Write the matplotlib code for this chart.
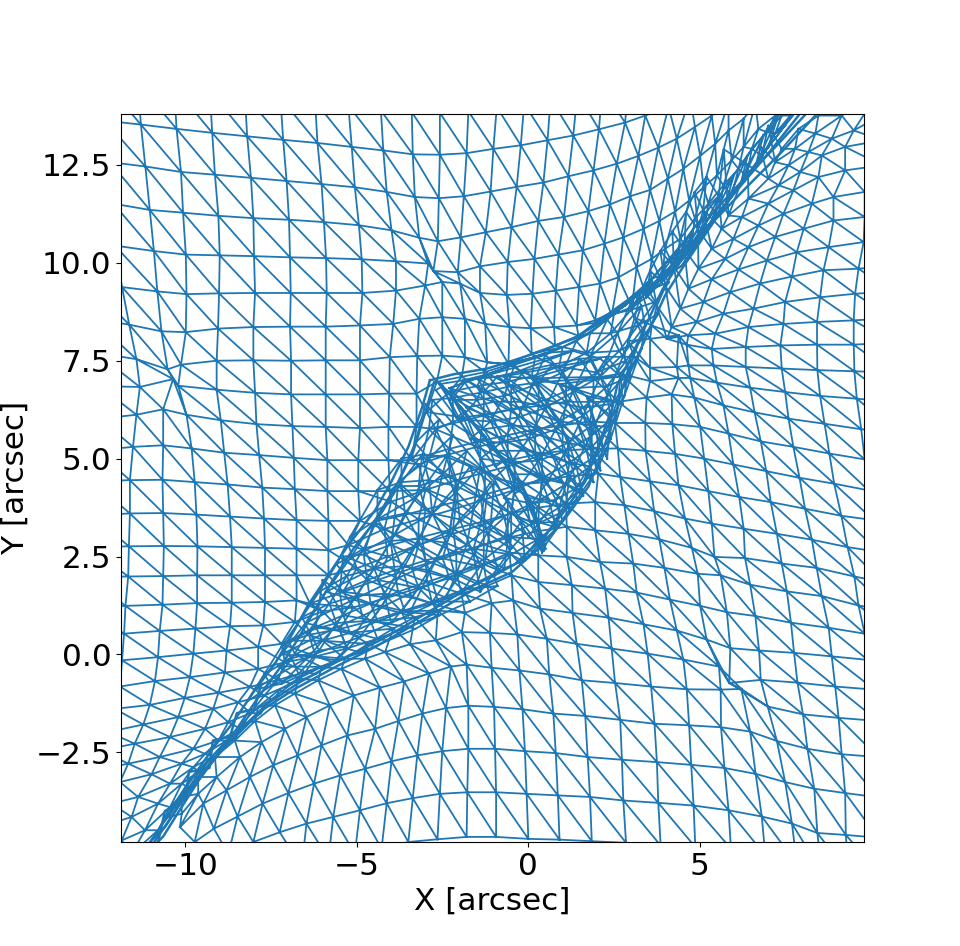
import numpy as np
import matplotlib
matplotlib.use("Agg")
import matplotlib.pyplot as plt
import matplotlib.tri as mtri

# parte de arriba e izquierda de la malla: (columna inicial, x, y)
arriba = [
 (0, [-12.45,-11.38,-10.33,-9.29,-8.27,-7.23,-6.22,-5.25,-4.30,-3.40,-2.58,-1.75,-0.92,-0.12,0.65,1.43,2.16,2.95],
     [14.7,14.59,14.49,14.39,14.29,14.21,14.12,14.02,13.89,13.85,13.83,13.87,13.98,14.06,14.19,14.32,14.49,14.66]),
 (0, [-12.35,-11.30,-10.26,-9.22,-8.20,-7.15,-6.15,-5.15,-4.23,-3.37,-2.58,-1.80,-1.02,-0.22,0.56,1.31,2.06,2.82,3.41,4.09,4.72],
     [13.63,13.53,13.42,13.32,13.23,13.14,13.06,12.96,12.87,12.77,12.76,12.80,12.91,13.0,13.13,13.25,13.41,13.58,13.76,13.98,14.23]),
 (0, [-12.2,-11.17,-10.13,-9.14,-8.09,-7.05,-6.03,-5.06,-4.13,-3.31,-2.61,-1.88,-1.10,-0.34,0.44,1.17,1.90,2.58,3.21,3.79,4.33,4.86,5.35,5.84],
     [12.57,12.46,12.32,12.25,12.17,12.09,12.01,11.93,11.81,11.68,11.65,11.70,11.82,11.94,12.05,12.21,12.36,12.53,12.73,12.94,13.17,13.47,13.76,14.1]),
 (0, [-12.1,-11.04,-10.07,-9.04,-8.02,-6.98,-5.96,-4.94,-3.99,-3.18,-2.64,-1.97,-1.24,-0.49,0.29,1.04,1.75,2.38,2.97,3.55,4.07,4.52,5.01,5.45,5.84,6.28,6.62],
     [11.51,11.35,11.28,11.20,11.14,11.10,11.04,10.96,10.83,10.64,10.55,10.65,10.78,10.91,11.07,11.17,11.32,11.49,11.70,11.86,12.15,12.40,12.73,13.04,13.38,13.68,14.06]),
 (0, [-12.06,-10.92,-9.99,-9.0,-8.0,-6.95,-5.90,-4.86,-3.86,-2.92,-2.77,-2.06,-1.41,-0.60,0.18,0.88,1.59,2.22,2.77,3.36,3.82,4.28,4.69,5.11,5.50,5.93,6.28,6.71,7.2],
     [10.44,10.30,10.21,10.19,10.17,10.14,10.12,10.09,10.04,9.98,9.79,9.76,9.91,10.02,10.10,10.21,10.32,10.49,10.65,10.87,11.07,11.31,11.59,11.93,12.23,12.62,12.96,13.42,13.76]),
 (-1, [-12.9,-11.85,-10.82,-9.97,-9.02,-7.97,-6.93,-5.88,-4.84,-3.86,-3.01,-2.51,-1.99,-1.41,-0.63,0.12,0.80,1.48,2.09,2.63,3.16,3.60,3.99,4.43,4.86,5.25,5.69,6.13,6.52,6.96,7.39],
     [9.55,9.38,9.27,9.20,9.22,9.23,9.23,9.23,9.23,9.29,9.42,9.51,9.47,9.23,9.18,9.21,9.29,9.38,9.47,9.63,9.89,10.10,10.36,10.61,11.13,11.51,11.98,12.40,12.91,13.34,13.76]),
 (-1, [-12.7,-11.64,-10.70,-9.99,-9.05,-8.02,-6.95,-5.91,-4.91,-3.94,-3.18,-2.51,-1.85,-1.26,-0.55,0.07,0.75,1.41,1.95,2.43,3.02,3.45,3.89,4.28,4.72,5.11,5.55,5.93,6.37,6.81,7.2,7.64],
     [8.57,8.42,8.25,8.23,8.32,8.36,8.37,8.37,8.40,8.44,8.57,8.61,8.57,8.44,8.36,8.33,8.36,8.40,8.53,8.66,8.87,9.12,9.51,9.85,10.32,10.74,11.21,11.72,12.23,12.74,13.30,13.76]),
 (-1, [-12.6,-11.43,-10.52,-10.13,-9.09,-8.02,-6.92,-5.91,-4.91,-4.04,-3.24,-2.51,-1.85,-1.20,-0.58,0.10,0.78,1.46,2.14,2.82,3.31,3.79,4.18,4.57,4.96,5.35,5.74,6.18,6.62,7.0,7.49,7.88],
     [7.7,7.54,7.28,7.40,7.50,7.51,7.50,7.51,7.51,7.59,7.62,7.63,7.59,7.46,7.42,7.68,7.89,8.14,8.49,8.91,9.25,9.59,9.93,10.27,10.66,11.08,11.47,11.98,12.45,12.96,13.51,13.93]),
 (-1, [-12.5,-11.33,-10.36,-10.21,-9.09,-7.97,-6.92,-5.91,-4.91,-4.06,-3.26,-2.67,-1.94,-1.26,-0.58,0.2,1.0,1.8,2.5,3.1,3.6,4.0,4.4,4.8,5.2,5.6,6.0,6.4,6.85,7.3],
     [6.85,6.83,7.03,6.86,6.76,6.68,6.64,6.64,6.64,6.66,6.66,6.96,7.09,7.21,7.40,7.6,7.85,8.2,8.7,9.2,9.6,10.0,10.4,10.85,11.3,11.75,12.25,12.75,13.25,13.8]),
 (-1, [-12.5,-11.43,-10.65,-9.97,-8.97,-7.93,-6.88,-5.91,-4.91,-4.08,-3.26,-2.97,-2.3,-1.5,-0.7,0.1,0.9,1.7,2.4,3.0,3.5,3.95,4.35,4.75],
     [6.02,6.12,6.26,6.12,5.98,5.88,5.83,5.81,5.78,5.81,5.81,6.19,6.7,6.85,6.95,7.1,7.35,7.7,8.2,8.8,9.3,9.7,10.15,10.6]),
 (-1, [-12.6,-11.53,-10.65,-9.82,-8.87,-7.85,-6.84,-5.86,-4.96,-4.08,-3.40,-2.7,-1.9,-1.1,-0.3,0.5,1.3,2.0,2.65,3.2,3.7,4.1],
     [5.21,5.30,5.34,5.26,5.15,5.09,5.02,4.96,4.96,4.96,4.96,5.75,6.05,6.15,6.3,6.5,6.8,7.2,7.75,8.4,9.0,9.5]),
 (-1, [-12.7,-11.62,-10.67,-9.73,-8.77,-7.76,-6.81,-5.86,-4.96,-4.04,-3.2,-2.35,-1.5,-0.7,0.1,0.9,1.6,2.3,2.85,3.35,3.8],
     [4.42,4.45,4.46,4.40,4.34,4.26,4.22,4.17,4.17,4.17,4.85,5.1,5.3,5.45,5.65,5.95,6.3,6.85,7.5,8.1,8.7]),
 (-1, [-12.7,-11.62,-10.65,-9.68,-8.70,-7.71,-6.76,-5.83,-4.91,-4.0,-3.0,-2.1,-1.25,-0.4,0.4,1.15,1.85,2.45,3.0],
     [3.55,3.60,3.61,3.57,3.52,3.47,3.43,3.41,3.41,3.9,4.2,4.45,4.65,4.85,5.1,5.4,5.85,6.4,7.1]),
 (-1, [-12.8,-11.65,-10.63,-9.65,-8.65,-7.68,-6.76,-5.83,-5.25,-4.2,-3.2,-2.2,-1.3,-0.4,0.4,1.2,1.85,2.4],
     [2.74,2.76,2.77,2.76,2.74,2.72,2.70,2.66,2.79,3.2,3.45,3.7,3.95,4.2,4.5,4.9,5.3,5.8]),
 (-1, [-12.8,-11.67,-10.65,-9.66,-8.65,-7.68,-6.76,-5.83,-5.0,-4.1,-3.2,-2.3,-1.4,-0.5,0.35,1.1,1.8,2.3],
     [1.98,1.99,2.0,2.02,2.02,2.02,2.02,2.02,2.2,2.5,2.8,3.05,3.3,3.6,3.95,4.35,4.8,5.2]),
 (-1, [-12.9,-11.75,-10.67,-9.66,-8.65,-7.68,-6.76,-6.37,-5.4,-4.4,-3.4,-2.5,-1.6,-0.7,0.15,0.9,1.5],
     [1.21,1.24,1.27,1.31,1.32,1.34,1.38,1.30,1.6,1.9,2.2,2.45,2.7,3.0,3.35,3.75,4.2]),
 (-1, [-12.9,-11.79,-10.75,-9.71,-8.70,-7.73,-6.81,-6.0,-5.1,-4.1,-3.2,-2.3,-1.4,-0.5,0.3,1.0],
     [0.49,0.53,0.60,0.66,0.72,0.74,0.83,1.1,1.2,1.45,1.7,1.95,2.25,2.55,2.95,3.4]),
 (-1, [-13.0,-11.85,-10.80,-9.77,-8.80,-7.88,-7.2,-6.4,-5.5,-4.6,-3.7,-2.8,-1.9,-1.0,-0.2,0.5],
     [-0.24,-0.15,-0.07,0.02,0.10,0.19,0.27,0.5,0.65,0.85,1.1,1.35,1.65,2.0,2.4,2.8]),
 (-1, [-13.1,-11.91,-10.89,-9.87,-8.85,-7.88,-7.1,-6.2,-5.3,-4.4,-3.5,-2.6,-1.7,-0.9],
     [-0.92,-0.82,-0.68,-0.58,-0.46,-0.37,-0.2,-0.05,0.15,0.4,0.7,1.0,1.35,1.75]),
 (-1, [-13.1,-12.06,-11.04,-10.02,-9.04,-8.12,-7.3,-6.5,-5.7,-4.9,-4.1,-3.3],
     [-1.56,-1.39,-1.29,-1.11,-0.98,-0.83,-0.65,-0.45,-0.2,0.05,0.35,0.65]),
 (0, [-12.25,-11.23,-10.21,-9.19,-8.46,-7.7,-6.9,-6.2],
     [-1.98,-1.79,-1.60,-1.39,-1.22,-1.05,-0.75,-0.5]),
 (0, [-12.45,-11.48,-10.45,-9.43,-8.75,-8.1,-7.5],
     [-2.45,-2.28,-2.11,-1.90,-1.73,-1.5,-1.15]),
 (0, [-12.64,-11.67,-10.75,-9.77,-9.04,-8.4,-7.8],
     [-2.96,-2.79,-2.62,-2.41,-2.20,-1.9,-1.5]),
 (1, [-11.91,-10.99,-10.11,-9.43,-8.8],
     [-3.26,-3.06,-2.79,-2.54,-2.2]),
 (1, [-12.16,-11.38,-10.45,-9.77,-9.2],
     [-3.81,-3.64,-3.30,-2.88,-2.6]),
 (1, [-12.35,-11.57,-10.80,-10.11,-9.6],
     [-4.37,-4.15,-3.81,-3.30,-3.0]),
 (2, [-11.86,-11.18,-10.45,-9.9],
     [-4.75,-4.49,-3.90,-3.4]),
 (3, [-11.57,-10.80,-10.3],
     [-5.09,-4.49,-3.9]),
]

# parte de abajo y derecha de la malla
abajo = [
 (19, [7.0,7.39,7.88,8.46,9.24], [13.5,12.91,13.42,13.76,14.3]),
 (19, [6.75,7.2,7.78,8.37,9.14,10.1], [13.0,12.57,12.91,13.30,13.76,14.2]),
 (18, [5.7,6.4,7.0,7.59,8.17,8.85,9.49,10.2], [12.9,12.5,12.15,12.49,12.83,13.17,13.38,13.72]),
 (17, [5.2,5.55,5.84,6.42,7.30,7.93,8.56,9.24,10.31], [12.2,11.7,11.21,11.64,11.98,12.32,12.74,12.96,13.13]),
 (17, [4.85,5.1,5.64,6.23,7.00,7.73,8.46,9.24,10.31], [11.8,11.35,10.87,11.17,11.51,11.85,12.19,12.36,12.49]),
 (17, [4.6,4.95,5.35,5.98,6.71,7.44,8.27,8.90,9.81,10.9], [11.3,10.85,10.36,10.61,10.95,11.25,11.51,11.68,11.81,11.93]),
 (17, [4.2,4.55,4.96,5.74,6.42,7.20,8.03,8.90,9.81,10.9], [10.8,10.35,9.85,10.10,10.40,10.66,10.87,11.08,11.17,11.3]),
 (17, [3.85,4.25,4.67,5.35,6.13,6.96,7.83,8.76,9.78,10.9], [10.3,9.9,9.34,9.58,9.83,10.06,10.27,10.40,10.53,10.66]),
 (17, [3.55,4.0,4.43,5.11,5.89,6.76,7.69,8.61,9.63,10.8], [9.8,9.4,8.83,9.00,9.25,9.47,9.65,9.81,9.85,9.93]),
 (17, [3.3,3.75,4.18,4.91,5.69,6.57,7.49,8.51,9.53,10.6], [9.3,8.9,8.36,8.49,8.70,8.83,9.00,9.12,9.21,9.27]),
 (17, [3.1,3.6,4.04,4.67,5.45,6.42,7.44,8.42,9.49,10.6], [8.6,8.4,8.06,8.15,8.19,8.36,8.44,8.49,8.53,8.59]),
 (17, [2.9,3.55,4.38,4.62,5.35,6.34,7.35,8.42,9.49,10.6], [8.0,8.06,8.15,7.91,7.80,7.85,7.89,7.91,7.91,7.96]),
 (11, [-1.8,-0.9,-0.1,0.7,1.5,2.3,3.1,3.55,4.33,4.67,5.40,6.34,7.39,8.43,9.51,10.6],
      [7.0,7.1,7.25,7.4,7.55,7.6,7.6,7.32,7.34,7.38,7.38,7.34,7.30,7.26,7.23,7.2]),
 (10, [-2.8,-2.2,-1.3,-0.5,0.3,1.1,1.9,2.68,3.55,4.38,4.72,5.50,6.47,7.49,8.51,9.58,10.7],
      [6.5,6.55,6.7,6.85,6.95,7.0,7.05,7.17,6.98,7.06,7.06,6.94,6.81,6.70,6.60,6.53,6.45]),
 (10, [-2.9,-2.2,-1.3,-0.5,0.3,1.1,1.9,2.63,3.45,4.18,4.84,5.69,6.60,7.59,8.64,9.71,10.8],
      [5.75,5.9,6.1,6.25,6.35,6.45,6.45,6.45,6.56,6.64,6.56,6.36,6.18,6.02,5.89,5.75,5.65]),
 (10, [-3.1,-2.3,-1.4,-0.6,0.2,1.0,1.8,2.53,3.41,4.20,5.01,5.84,6.78,7.73,8.78,9.81],
      [5.05,5.25,5.45,5.6,5.75,5.85,5.95,5.91,5.91,5.88,5.81,5.64,5.44,5.30,5.13,4.98]),
 (9, [-3.8,-3.2,-2.3,-1.4,-0.6,0.2,1.0,1.8,2.61,3.42,4.28,5.13,5.98,6.94,7.91,8.92,9.92],
     [4.3,4.3,4.55,4.75,4.95,5.1,5.2,5.25,5.26,5.20,5.12,5.00,4.85,4.68,4.51,4.36,4.19]),
 (8, [-4.5,-3.9,-3.0,-2.1,-1.2,-0.4,0.4,1.2,2.04,2.68,3.55,4.38,5.25,6.15,7.07,8.07,9.13,10.07],
     [3.4,3.5,3.7,3.9,4.1,4.3,4.45,4.55,4.62,4.53,4.42,4.32,4.17,4.02,3.89,3.72,3.54,3.43]),
 (7, [-5.4,-4.8,-4.0,-3.1,-2.2,-1.3,-0.5,0.3,1.1,1.95,2.80,3.67,4.57,5.35,6.28,7.25,8.27,9.31,10.21],
     [2.5,2.55,2.8,3.0,3.2,3.4,3.6,3.75,3.85,3.89,3.81,3.66,3.47,3.34,3.21,3.08,2.93,2.74,2.62]),
 (6, [-6.0,-5.5,-4.7,-3.9,-3.0,-2.1,-1.3,-0.5,0.3,1.12,1.95,2.92,3.82,4.77,5.43,6.32,7.39,8.41,9.51,10.31],
     [1.9,1.6,1.9,2.15,2.4,2.6,2.8,3.0,3.15,3.26,3.17,3.08,2.94,2.72,2.49,2.46,2.32,2.21,1.99,1.85]),
 (5, [-7.0,-6.2,-5.4,-4.6,-3.8,-2.95,-2.1,-1.3,-0.55,0.29,1.12,2.09,3.06,3.97,4.94,5.61,6.47,7.54,8.56,9.63,10.6],
     [0.35,0.7,1.0,1.3,1.6,1.85,2.1,2.3,2.6,2.53,2.49,2.36,2.32,2.21,2.06,2.02,1.78,1.61,1.49,1.25,1.1]),
 (4, [-7.3,-6.8,-6.0,-5.2,-4.4,-3.6,-2.8,-1.95,-1.2,-0.49,0.29,1.27,2.24,3.16,4.13,5.01,5.79,6.62,7.66,8.76,9.81,10.9],
     [-0.3,0.0,0.35,0.55,0.85,1.1,1.3,1.55,1.75,2.02,1.85,1.77,1.68,1.58,1.40,1.24,1.08,0.98,0.81,0.68,0.53,0.4]),
 (-4, [-10.6,-10.26,-9.82,-9.34,-8.85,-8.36,-7.88,-7.29,-6.71,-6.03,-5.35,-4.67,-3.94,-3.31,-2.64,-1.85,-1.07,-0.44,0.34,1.29,2.34,3.36,4.33,5.20,5.89,6.73,7.75,8.85,9.9],
      [-4.24,-3.73,-3.13,-2.71,-2.24,-1.77,-1.34,-0.92,-0.62,-0.32,-0.11,0.27,0.66,0.95,1.12,1.06,1.31,1.38,1.17,1.06,0.94,0.77,0.61,0.38,0.16,0.10,0.04,-0.05,-0.14]),
 (-3, [-10.50,-10.11,-9.63,-9.14,-8.56,-7.97,-7.39,-6.81,-6.13,-5.45,-4.76,-4.18,-3.45,-2.70,-1.94,-1.12,-0.32,0.54,1.41,2.43,3.48,4.52,5.56,5.86,6.78,7.85,8.95,10.1],
      [-4.15,-3.64,-3.13,-2.62,-2.20,-1.70,-1.30,-1.00,-0.66,-0.37,-0.11,0.06,0.26,0.36,0.57,0.55,0.51,0.40,0.27,0.15,0.02,-0.13,-0.31,-0.73,-0.65,-0.72,-0.82,-0.9]),
 (-2, [-10.11,-9.63,-9.09,-8.41,-7.78,-7.10,-6.47,-5.79,-5.09,-4.33,-3.62,-2.90,-2.26,-1.80,-1.07,-0.26,0.61,1.56,2.53,3.58,4.62,5.61,6.21,6.98,8.01,9.05,10.2],
      [-4.07,-3.56,-3.13,-2.62,-2.24,-1.90,-1.60,-1.30,-1.05,-0.85,-0.69,-0.49,-0.31,-0.26,-0.34,-0.41,-0.51,-0.66,-0.73,-0.82,-0.89,-0.90,-0.88,-1.33,-1.53,-1.62,-1.7]),
 (-1, [-10.16,-9.48,-8.80,-8.12,-7.44,-6.73,-6.03,-5.28,-4.47,-3.79,-3.09,-2.40,-1.75,-1.00,-0.17,0.73,1.66,2.68,3.68,4.69,5.62,6.47,7.25,8.14,9.14,10.2],
      [-4.41,-3.81,-3.47,-3.13,-2.83,-2.58,-2.32,-2.07,-1.90,-1.70,-1.51,-1.37,-1.31,-1.34,-1.40,-1.51,-1.57,-1.67,-1.77,-1.81,-1.86,-1.97,-2.21,-2.41,-2.55,-2.62]),
 (0, [-9.73,-9.17,-8.48,-7.75,-7.00,-6.25,-5.49,-4.76,-3.99,-3.24,-2.51,-1.75,-0.97,-0.10,0.80,1.73,2.73,3.75,4.75,5.72,6.63,7.49,8.34,9.24,10.2],
     [-4.79,-4.45,-4.14,-3.81,-3.54,-3.30,-3.09,-2.92,-2.73,-2.58,-2.47,-2.41,-2.41,-2.47,-2.52,-2.62,-2.69,-2.75,-2.82,-2.90,-3.05,-3.26,-3.43,-3.54,-3.65]),
 (2, [-8.75,-8.02,-7.25,-6.47,-5.69,-4.91,-4.13,-3.37,-2.58,-1.78,-0.94,-0.05,0.86,1.80,2.77,3.79,4.82,5.84,6.81,7.69,8.43,9.26,10.2],
     [-5.1,-4.79,-4.54,-4.32,-4.15,-3.98,-3.80,-3.67,-3.56,-3.52,-3.52,-3.56,-3.60,-3.64,-3.73,-3.79,-3.86,-3.98,-4.14,-4.32,-4.56,-4.61,-4.68]),
 (5, [-6.61,-5.83,-5.06,-4.28,-3.50,-2.65,-1.80,-0.94,0.0,0.91,1.85,2.85,3.86,4.87,5.91,6.91,7.83,8.56,9.34,10.3],
     [-5.43,-5.22,-5.09,-4.96,-4.79,-4.72,-4.66,-4.66,-4.71,-4.73,-4.77,-4.81,-4.88,-4.92,-4.96,-5.13,-5.35,-5.56,-5.6,-5.65]),
]

# lobulo superior de la zona plegada
lobulo_sup = [
 (0, [-2.6,-1.9,-1.2,-0.4,0.5,1.4,2.3,3.1], [6.9,7.0,7.15,7.4,7.65,8.0,8.55,9.2]),
 (0, [-2.3,-1.5,-0.7,0.1,1.0,1.8,2.6,3.3], [6.5,6.5,6.6,6.85,7.2,7.6,8.2,8.9]),
 (0, [-2.0,-1.1,-0.3,0.5,1.3,2.1,2.8,3.4], [6.0,5.95,6.05,6.3,6.7,7.1,7.7,8.4]),
 (0, [-1.7,-0.8,0.0,0.8,1.6,2.3,2.9,3.3], [5.5,5.4,5.5,5.75,6.1,6.6,7.2,7.8]),
 (0, [-1.4,-0.5,0.3,1.1,1.8,2.4,2.8], [5.0,4.9,4.95,5.2,5.55,6.0,6.6]),
 (0, [-1.0,-0.2,0.55,1.3,1.95,2.4], [4.5,4.35,4.4,4.7,5.05,5.5]),
 (0, [-0.7,0.1,0.8,1.4,2.0], [4.0,3.85,3.95,4.25,4.7]),
 (0, [-0.35,0.3,0.9,1.4], [3.5,3.35,3.6,3.95]),
 (0, [0.0,0.4,0.8], [3.0,2.85,3.2]),
]

# arcos del lobulo superior
arcos_sup = [
 (0, [0.5,1.3,2.1,2.7,2.75], [7.7,7.75,7.55,7.1,6.4]),
 (0, [-2.3,-1.5,-0.7,0.1,0.9,1.7,2.4,2.6], [6.8,7.05,7.1,7.05,6.9,6.6,6.1,5.5]),
 (0, [-1.8,-1.0,-0.2,0.6,1.4,2.0,2.3], [6.3,6.45,6.45,6.3,6.0,5.6,5.0]),
 (0, [-1.3,-0.5,0.3,1.1,1.7,2.1], [5.75,5.85,5.8,5.6,5.2,4.7]),
 (0, [-0.9,-0.1,0.7,1.4,1.9], [5.2,5.2,5.1,4.8,4.4]),
 (0, [-0.5,0.3,1.0,1.6], [4.6,4.6,4.4,4.05]),
 (0, [-0.1,0.6,1.2], [4.0,3.95,3.7]),
 (0, [0.2,0.8], [3.4,3.25]),
]

# lobulo inferior de la zona plegada
lobulo_inf = [
 (0, [-3.0,-2.6,-2.2,-1.8,-1.4,-1.0,-0.6,-0.2,0.3], [6.4,6.0,5.6,5.2,4.8,4.4,3.95,3.4,2.8]),
 (0, [-3.3,-2.9,-2.5,-2.1,-1.6,-1.1,-0.6,-0.1], [5.4,5.0,4.6,4.15,3.7,3.3,2.9,2.4]),
 (0, [-3.8,-3.3,-2.8,-2.3,-1.8,-1.25,-0.7], [4.4,4.0,3.6,3.15,2.8,2.45,2.2]),
 (0, [-4.5,-3.9,-3.3,-2.7,-2.1,-1.5], [3.4,3.05,2.75,2.4,2.05,1.8]),
 (0, [-5.2,-4.5,-3.8,-3.1,-2.4], [2.45,2.2,1.95,1.7,1.45]),
 (0, [-5.9,-5.1,-4.3,-3.5], [1.6,1.4,1.2,1.0]),
 (0, [-6.5,-5.7,-4.9], [0.8,0.65,0.45]),
 (0, [-7.2,-6.4,-5.6], [0.0,-0.05,-0.15]),
 (0, [-8.0,-7.2], [-0.9,-0.75]),
]

# arcos del lobulo inferior
arcos_inf = [
 (0, [-3.7,-3.1,-2.4,-1.7,-1.1], [5.0,5.1,5.05,4.8,4.4]),
 (0, [-4.4,-3.7,-2.9,-2.1,-1.4,-0.7,-0.1], [4.2,4.4,4.45,4.3,4.0,3.5,3.1]),
 (0, [-5.2,-4.4,-3.6,-2.8,-2.0,-1.2,-0.5], [3.0,3.45,3.6,3.6,3.45,3.1,2.7]),
 (0, [-5.6,-4.8,-4.0,-3.2,-2.4,-1.6,-0.9], [2.3,2.7,2.9,2.95,2.85,2.55,2.2]),
 (0, [-6.1,-5.3,-4.5,-3.7,-2.9,-2.1,-1.4], [1.6,2.0,2.2,2.25,2.15,1.9,1.6]),
 (0, [-6.6,-5.8,-5.0,-4.2,-3.4,-2.6], [0.95,1.3,1.5,1.55,1.45,1.25]),
 (0, [-7.2,-6.4,-5.6,-4.8,-4.0], [0.2,0.6,0.8,0.85,0.8]),
 (0, [-7.7,-6.9,-6.1,-5.3], [-0.5,-0.1,0.1,0.2]),
 (0, [-8.2,-7.5,-6.7], [-1.2,-0.8,-0.5]),
]

# franja densa que baja desde la esquina superior
franja = [
 (0, [-2.6,-2.0,-1.4,-0.8,-0.2,0.2,0.45], [6.95,6.3,5.65,5.0,4.3,3.5,2.65]),
 (0, [-2.5,-1.85,-1.25,-0.7,-0.15,0.25,0.5], [6.85,6.2,5.55,4.95,4.25,3.45,2.7]),
 (0, [-2.7,-2.1,-1.5,-0.95,-0.4,0.05,0.4], [6.75,6.05,5.4,4.8,4.1,3.4,2.6]),
]

# bordes del pliegue, leidos como curvas sueltas
borde_izq_x = [-2.87,-3.1,-3.5,-4.0,-4.47,-5.26,-5.84,-6.43,-6.9,-7.39,-7.97,-8.64,-9.2,-9.72,-10.3,-10.8,-11.2]
borde_izq_y = [7.0,6.3,5.3,4.4,3.68,2.78,2.02,1.25,0.5,-0.24,-0.9,-1.77,-2.4,-3.05,-3.8,-4.5,-5.0]
borde_izq2_x = [-2.75,-3.0,-3.35,-3.85,-4.3,-5.1,-5.7,-6.25,-6.75,-7.25,-7.8,-8.5,-9.05,-9.6,-10.15,-10.65,-11.05]
borde_izq2_y = [6.95,6.2,5.2,4.3,3.6,2.7,1.9,1.1,0.35,-0.35,-1.0,-1.9,-2.55,-3.2,-3.95,-4.65,-5.0]
borde_inf_x = [-11.09,-10.6,-10.02,-9.43,-8.85,-8.36,-7.78,-6.81,-5.54,-4.47,-3.79,-2.62,-1.55,-0.48,0.29,1.07,1.75,2.05,2.58,2.72,3.11,3.5,3.99,4.48,5.45,6.42,7.39,8.37]
borde_inf_y = [-4.84,-4.41,-3.64,-2.96,-2.37,-1.94,-1.43,-0.88,-0.28,0.19,0.53,1.12,1.68,2.1,2.7,3.47,4.28,4.92,6.2,6.79,7.46,8.23,9.17,9.85,11.1,11.98,12.83,13.76]
borde_inf2_x = [-10.95,-10.45,-9.9,-9.3,-8.7,-8.2,-7.6,-6.65,-5.4,-4.35,-3.65,-2.5,-1.45,-0.4,0.35,1.0,1.65,1.95,2.45,2.6,3.0,3.4,3.9,4.4,5.35,6.3,7.25,8.2]
borde_inf2_y = [-4.84,-4.2,-3.45,-2.8,-2.2,-1.75,-1.25,-0.7,-0.1,0.35,0.7,1.3,1.85,2.3,2.9,3.6,4.4,5.1,6.3,6.9,7.6,8.35,9.3,10.0,11.25,12.15,13.0,13.9]
borde_sup_x = [-2.87,-2.2,-1.2,-0.53,0.4,1.4,2.82,4.48,5.45,7.1,7.88]
borde_sup_y = [7.0,7.15,7.3,7.48,7.75,8.1,9.0,9.93,11.2,12.9,13.76]
cola_x = [-10.8,-10.6,-10.0,-9.9,-9.3,-9.2,-8.7,-8.5,-8.0,-7.8]
cola_y = [-4.8,-4.0,-3.7,-3.0,-2.9,-2.2,-2.1,-1.5,-1.4,-0.8]

bordes = [(borde_izq_x, borde_izq_y), (borde_izq2_x, borde_izq2_y), (borde_inf_x, borde_inf_y),
          (borde_inf2_x, borde_inf2_y), (borde_sup_x, borde_sup_y), (cola_x, cola_y)]

xticks = [-10, -5, 0, 5]
yticks = [-2.5, 0.0, 2.5, 5.0, 7.5, 10.0, 12.5]


def triangulos(filas, invertida=False):
    xs, ys, idx, tris = [], [], {}, []
    for r, (c0, fx, fy) in enumerate(filas):
        for k in range(len(fx)):
            idx[(r, c0 + k)] = len(xs)
            xs.append(fx[k])
            ys.append(fy[k])
    for (r, c) in idx:
        a, b = idx.get((r, c + 1)), idx.get((r + 1, c))
        d = idx.get((r + 1, c + 1))
        p = idx[(r, c)]
        if invertida:
            if a is not None and b is not None:
                tris.append([p, a, b])
            if a is not None and b is not None and d is not None:
                tris.append([a, d, b])
        else:
            if a is not None and d is not None:
                tris.append([p, a, d])
            if b is not None and d is not None:
                tris.append([p, b, d])
    return mtri.Triangulation(xs, ys, tris)


fig = plt.figure(figsize=(9.6, 9.46), dpi=100)
ax = fig.add_axes([121 / 960, 1 - 842 / 946, 743 / 960, 728 / 946])

mallas = [(arriba, False), (abajo, False), (lobulo_sup, True), (lobulo_inf, True),
          (arcos_sup, False), (arcos_inf, False), (franja, False)]
for filas, inv in mallas:
    ax.triplot(triangulos(filas, inv), color="C0", lw=1.3, marker="None")
for bx, by in bordes:
    ax.plot(bx, by, color="C0", lw=1.8)

ax.set_xlim(-11.88, 9.79)
ax.set_ylim(-4.79, 13.8)
ax.set_xticks(xticks)
ax.set_yticks(yticks)
ax.tick_params(labelsize=22.4)
ax.set_xlabel("X [arcsec]", fontsize=22.4)
ax.set_ylabel("Y [arcsec]", fontsize=22.4)

fig.savefig("out.png", dpi=100)
